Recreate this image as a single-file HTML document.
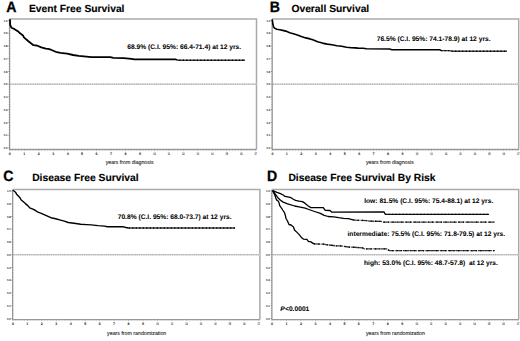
<!DOCTYPE html><html><head><meta charset="utf-8"><style>html,body{margin:0;padding:0;background:#fff;width:520px;height:341px;overflow:hidden}svg{display:block;text-rendering:geometricPrecision}</style></head><body>
<svg width="520" height="341" viewBox="0 0 520 341" font-family='"Liberation Sans", sans-serif'>
<rect width="520" height="341" fill="#fff"/>
<path d="M9.6 19H256.5V149.5" fill="none" stroke="#aaaaaa" stroke-width="1.5"/>
<line x1="9.6" y1="84.2" x2="256.5" y2="84.2" stroke="#d4d4d4" stroke-width="1.5"/>
<line x1="10.6" y1="84.2" x2="256.5" y2="84.2" stroke="#a8a8a8" stroke-width="1.3" stroke-dasharray="0.9 1.3"/>
<path d="M9.6 19V149.5H256.5" fill="none" stroke="#a0a0a0" stroke-width="1.3"/>
<path d="M8.3 147.9h1.6M8.9 145.35h1M8.9 142.8h1M8.9 140.26h1M8.9 137.71h1M8.3 135.16h1.6M8.9 132.61h1M8.9 130.06h1M8.9 127.52h1M8.9 124.97h1M8.3 122.42h1.6M8.9 119.87h1M8.9 117.32h1M8.9 114.78h1M8.9 112.23h1M8.3 109.68h1.6M8.9 107.13h1M8.9 104.58h1M8.9 102.04h1M8.9 99.49h1M8.3 96.94h1.6M8.9 94.39h1M8.9 91.84h1M8.9 89.3h1M8.9 86.75h1M8.3 84.2h1.6M8.9 81.65h1M8.9 79.1h1M8.9 76.56h1M8.9 74.01h1M8.3 71.46h1.6M8.9 68.91h1M8.9 66.36h1M8.9 63.82h1M8.9 61.27h1M8.3 58.72h1.6M8.9 56.17h1M8.9 53.62h1M8.9 51.08h1M8.9 48.53h1M8.3 45.98h1.6M8.9 43.43h1M8.9 40.88h1M8.9 38.34h1M8.9 35.79h1M8.3 33.24h1.6M8.9 30.69h1M8.9 28.14h1M8.9 25.6h1M8.9 23.05h1M8.3 20.5h1.6M9.8 149.2v1.3M12.69 149.2v1M15.58 149.2v1M18.48 149.2v1M21.37 149.2v1M24.26 149.2v1.3M27.15 149.2v1M30.04 149.2v1M32.94 149.2v1M35.83 149.2v1M38.72 149.2v1.3M41.61 149.2v1M44.5 149.2v1M47.4 149.2v1M50.29 149.2v1M53.18 149.2v1.3M56.07 149.2v1M58.96 149.2v1M61.86 149.2v1M64.75 149.2v1M67.64 149.2v1.3M70.53 149.2v1M73.42 149.2v1M76.32 149.2v1M79.21 149.2v1M82.1 149.2v1.3M84.99 149.2v1M87.88 149.2v1M90.78 149.2v1M93.67 149.2v1M96.56 149.2v1.3M99.45 149.2v1M102.34 149.2v1M105.24 149.2v1M108.13 149.2v1M111.02 149.2v1.3M113.91 149.2v1M116.8 149.2v1M119.7 149.2v1M122.59 149.2v1M125.48 149.2v1.3M128.37 149.2v1M131.26 149.2v1M134.16 149.2v1M137.05 149.2v1M139.94 149.2v1.3M142.83 149.2v1M145.72 149.2v1M148.62 149.2v1M151.51 149.2v1M154.4 149.2v1.3M157.29 149.2v1M160.18 149.2v1M163.08 149.2v1M165.97 149.2v1M168.86 149.2v1.3M171.75 149.2v1M174.64 149.2v1M177.54 149.2v1M180.43 149.2v1M183.32 149.2v1.3M186.21 149.2v1M189.1 149.2v1M192 149.2v1M194.89 149.2v1M197.78 149.2v1.3M200.67 149.2v1M203.56 149.2v1M206.46 149.2v1M209.35 149.2v1M212.24 149.2v1.3M215.13 149.2v1M218.02 149.2v1M220.92 149.2v1M223.81 149.2v1M226.7 149.2v1.3M229.59 149.2v1M232.48 149.2v1M235.38 149.2v1M238.27 149.2v1M241.16 149.2v1.3M244.05 149.2v1M246.94 149.2v1M249.84 149.2v1M252.73 149.2v1M255.62 149.2v1.3" stroke="#707070" stroke-width="0.7"/>
<text x="3.8" y="149" font-size="3.0" font-weight="bold" fill="#111" textLength="3.8" lengthAdjust="spacingAndGlyphs">0.0</text>
<text x="3.8" y="136.26" font-size="3.0" font-weight="bold" fill="#111" textLength="3.8" lengthAdjust="spacingAndGlyphs">0.1</text>
<text x="3.8" y="123.52" font-size="3.0" font-weight="bold" fill="#111" textLength="3.8" lengthAdjust="spacingAndGlyphs">0.2</text>
<text x="3.8" y="110.78" font-size="3.0" font-weight="bold" fill="#111" textLength="3.8" lengthAdjust="spacingAndGlyphs">0.3</text>
<text x="3.8" y="98.04" font-size="3.0" font-weight="bold" fill="#111" textLength="3.8" lengthAdjust="spacingAndGlyphs">0.4</text>
<text x="3.8" y="85.3" font-size="3.0" font-weight="bold" fill="#111" textLength="3.8" lengthAdjust="spacingAndGlyphs">0.5</text>
<text x="3.8" y="72.56" font-size="3.0" font-weight="bold" fill="#111" textLength="3.8" lengthAdjust="spacingAndGlyphs">0.6</text>
<text x="3.8" y="59.82" font-size="3.0" font-weight="bold" fill="#111" textLength="3.8" lengthAdjust="spacingAndGlyphs">0.7</text>
<text x="3.8" y="47.08" font-size="3.0" font-weight="bold" fill="#111" textLength="3.8" lengthAdjust="spacingAndGlyphs">0.8</text>
<text x="3.8" y="34.34" font-size="3.0" font-weight="bold" fill="#111" textLength="3.8" lengthAdjust="spacingAndGlyphs">0.9</text>
<text x="3.8" y="21.6" font-size="3.0" font-weight="bold" fill="#111" textLength="3.8" lengthAdjust="spacingAndGlyphs">1.0</text>
<text x="9.8" y="154.9" font-size="3.6" text-anchor="middle" font-weight="bold" fill="#111">0</text>
<text x="24.26" y="154.9" font-size="3.6" text-anchor="middle" font-weight="bold" fill="#111">1</text>
<text x="38.72" y="154.9" font-size="3.6" text-anchor="middle" font-weight="bold" fill="#111">2</text>
<text x="53.18" y="154.9" font-size="3.6" text-anchor="middle" font-weight="bold" fill="#111">3</text>
<text x="67.64" y="154.9" font-size="3.6" text-anchor="middle" font-weight="bold" fill="#111">4</text>
<text x="82.1" y="154.9" font-size="3.6" text-anchor="middle" font-weight="bold" fill="#111">5</text>
<text x="96.56" y="154.9" font-size="3.6" text-anchor="middle" font-weight="bold" fill="#111">6</text>
<text x="111.02" y="154.9" font-size="3.6" text-anchor="middle" font-weight="bold" fill="#111">7</text>
<text x="125.48" y="154.9" font-size="3.6" text-anchor="middle" font-weight="bold" fill="#111">8</text>
<text x="139.94" y="154.9" font-size="3.6" text-anchor="middle" font-weight="bold" fill="#111">9</text>
<text x="154.4" y="154.9" font-size="3.6" text-anchor="middle" font-weight="bold" fill="#111" textLength="2.4" lengthAdjust="spacingAndGlyphs">10</text>
<text x="168.86" y="154.9" font-size="3.6" text-anchor="middle" font-weight="bold" fill="#111" textLength="2.4" lengthAdjust="spacingAndGlyphs">11</text>
<text x="183.32" y="154.9" font-size="3.6" text-anchor="middle" font-weight="bold" fill="#111" textLength="2.4" lengthAdjust="spacingAndGlyphs">12</text>
<text x="197.78" y="154.9" font-size="3.6" text-anchor="middle" font-weight="bold" fill="#111" textLength="2.4" lengthAdjust="spacingAndGlyphs">13</text>
<text x="212.24" y="154.9" font-size="3.6" text-anchor="middle" font-weight="bold" fill="#111" textLength="2.4" lengthAdjust="spacingAndGlyphs">14</text>
<text x="226.7" y="154.9" font-size="3.6" text-anchor="middle" font-weight="bold" fill="#111" textLength="2.4" lengthAdjust="spacingAndGlyphs">15</text>
<text x="241.16" y="154.9" font-size="3.6" text-anchor="middle" font-weight="bold" fill="#111" textLength="2.4" lengthAdjust="spacingAndGlyphs">16</text>
<text x="255.62" y="154.9" font-size="3.6" text-anchor="middle" font-weight="bold" fill="#111" textLength="2.4" lengthAdjust="spacingAndGlyphs">17</text>
<text transform="translate(6.2 11.5) scale(0.94 1)" font-size="15.0" font-weight="bold" fill="#000" stroke="#000" stroke-width="0.3">A</text>
<text x="28.9" y="11.5" font-size="10.3" font-weight="bold" fill="#000" stroke="#000" stroke-width="0.12">Event Free Survival</text>
<text x="105.7" y="163.5" font-size="5.5" fill="#1a1a1a" stroke="#1a1a1a" stroke-width="0.1" textLength="47.9" lengthAdjust="spacingAndGlyphs">years from diagnosis</text>
<polyline points="9.9,19.3 10.1,21.9 10.2,24.8 11,26.9 11.9,28 14.2,28.9 16.6,30.4 18.6,31.8 20.1,33.3 23,35.4 23.9,37.4 28.4,41.3 33.5,45.2 36.8,45.5 41.3,47.4 45.8,48.7 48,48.9 50.9,49.7 55.7,51.8 60.5,52.8 67.2,53.7 73,55 78.8,55.9 86.5,56.6 91.3,57.1 98,57.1 110.4,57.1 113.3,57.8 123.8,58.1 131.5,58.8 134.4,59.3 176,59.3" fill="none" stroke="#000" stroke-width="1.8" stroke-linejoin="round"/>
<polyline points="176,59.3 178,60.2 245,60.2" fill="none" stroke="#3c3c3c" stroke-width="1.4"/>
<polyline points="176,59.3 178,60.2 245,60.2" fill="none" stroke="#000" stroke-width="1.4" stroke-dasharray="1.2 2.3"/>
<path d="M272.2 19H518.7V149.5" fill="none" stroke="#aaaaaa" stroke-width="1.5"/>
<line x1="272.2" y1="84.2" x2="518.7" y2="84.2" stroke="#d4d4d4" stroke-width="1.5"/>
<line x1="273.2" y1="84.2" x2="518.7" y2="84.2" stroke="#a8a8a8" stroke-width="1.3" stroke-dasharray="0.9 1.3"/>
<path d="M272.2 19V149.5H518.7" fill="none" stroke="#a0a0a0" stroke-width="1.3"/>
<path d="M270.9 147.9h1.6M271.5 145.35h1M271.5 142.8h1M271.5 140.26h1M271.5 137.71h1M270.9 135.16h1.6M271.5 132.61h1M271.5 130.06h1M271.5 127.52h1M271.5 124.97h1M270.9 122.42h1.6M271.5 119.87h1M271.5 117.32h1M271.5 114.78h1M271.5 112.23h1M270.9 109.68h1.6M271.5 107.13h1M271.5 104.58h1M271.5 102.04h1M271.5 99.49h1M270.9 96.94h1.6M271.5 94.39h1M271.5 91.84h1M271.5 89.3h1M271.5 86.75h1M270.9 84.2h1.6M271.5 81.65h1M271.5 79.1h1M271.5 76.56h1M271.5 74.01h1M270.9 71.46h1.6M271.5 68.91h1M271.5 66.36h1M271.5 63.82h1M271.5 61.27h1M270.9 58.72h1.6M271.5 56.17h1M271.5 53.62h1M271.5 51.08h1M271.5 48.53h1M270.9 45.98h1.6M271.5 43.43h1M271.5 40.88h1M271.5 38.34h1M271.5 35.79h1M270.9 33.24h1.6M271.5 30.69h1M271.5 28.14h1M271.5 25.6h1M271.5 23.05h1M270.9 20.5h1.6M272.4 149.2v1.3M275.29 149.2v1M278.18 149.2v1M281.08 149.2v1M283.97 149.2v1M286.86 149.2v1.3M289.75 149.2v1M292.64 149.2v1M295.54 149.2v1M298.43 149.2v1M301.32 149.2v1.3M304.21 149.2v1M307.1 149.2v1M310 149.2v1M312.89 149.2v1M315.78 149.2v1.3M318.67 149.2v1M321.56 149.2v1M324.46 149.2v1M327.35 149.2v1M330.24 149.2v1.3M333.13 149.2v1M336.02 149.2v1M338.92 149.2v1M341.81 149.2v1M344.7 149.2v1.3M347.59 149.2v1M350.48 149.2v1M353.38 149.2v1M356.27 149.2v1M359.16 149.2v1.3M362.05 149.2v1M364.94 149.2v1M367.84 149.2v1M370.73 149.2v1M373.62 149.2v1.3M376.51 149.2v1M379.4 149.2v1M382.3 149.2v1M385.19 149.2v1M388.08 149.2v1.3M390.97 149.2v1M393.86 149.2v1M396.76 149.2v1M399.65 149.2v1M402.54 149.2v1.3M405.43 149.2v1M408.32 149.2v1M411.22 149.2v1M414.11 149.2v1M417 149.2v1.3M419.89 149.2v1M422.78 149.2v1M425.68 149.2v1M428.57 149.2v1M431.46 149.2v1.3M434.35 149.2v1M437.24 149.2v1M440.14 149.2v1M443.03 149.2v1M445.92 149.2v1.3M448.81 149.2v1M451.7 149.2v1M454.6 149.2v1M457.49 149.2v1M460.38 149.2v1.3M463.27 149.2v1M466.16 149.2v1M469.06 149.2v1M471.95 149.2v1M474.84 149.2v1.3M477.73 149.2v1M480.62 149.2v1M483.52 149.2v1M486.41 149.2v1M489.3 149.2v1.3M492.19 149.2v1M495.08 149.2v1M497.98 149.2v1M500.87 149.2v1M503.76 149.2v1.3M506.65 149.2v1M509.54 149.2v1M512.44 149.2v1M515.33 149.2v1M518.22 149.2v1.3" stroke="#707070" stroke-width="0.7"/>
<text x="266.4" y="149" font-size="3.0" font-weight="bold" fill="#111" textLength="3.8" lengthAdjust="spacingAndGlyphs">0.0</text>
<text x="266.4" y="136.26" font-size="3.0" font-weight="bold" fill="#111" textLength="3.8" lengthAdjust="spacingAndGlyphs">0.1</text>
<text x="266.4" y="123.52" font-size="3.0" font-weight="bold" fill="#111" textLength="3.8" lengthAdjust="spacingAndGlyphs">0.2</text>
<text x="266.4" y="110.78" font-size="3.0" font-weight="bold" fill="#111" textLength="3.8" lengthAdjust="spacingAndGlyphs">0.3</text>
<text x="266.4" y="98.04" font-size="3.0" font-weight="bold" fill="#111" textLength="3.8" lengthAdjust="spacingAndGlyphs">0.4</text>
<text x="266.4" y="85.3" font-size="3.0" font-weight="bold" fill="#111" textLength="3.8" lengthAdjust="spacingAndGlyphs">0.5</text>
<text x="266.4" y="72.56" font-size="3.0" font-weight="bold" fill="#111" textLength="3.8" lengthAdjust="spacingAndGlyphs">0.6</text>
<text x="266.4" y="59.82" font-size="3.0" font-weight="bold" fill="#111" textLength="3.8" lengthAdjust="spacingAndGlyphs">0.7</text>
<text x="266.4" y="47.08" font-size="3.0" font-weight="bold" fill="#111" textLength="3.8" lengthAdjust="spacingAndGlyphs">0.8</text>
<text x="266.4" y="34.34" font-size="3.0" font-weight="bold" fill="#111" textLength="3.8" lengthAdjust="spacingAndGlyphs">0.9</text>
<text x="266.4" y="21.6" font-size="3.0" font-weight="bold" fill="#111" textLength="3.8" lengthAdjust="spacingAndGlyphs">1.0</text>
<text x="272.4" y="154.9" font-size="3.6" text-anchor="middle" font-weight="bold" fill="#111">0</text>
<text x="286.86" y="154.9" font-size="3.6" text-anchor="middle" font-weight="bold" fill="#111">1</text>
<text x="301.32" y="154.9" font-size="3.6" text-anchor="middle" font-weight="bold" fill="#111">2</text>
<text x="315.78" y="154.9" font-size="3.6" text-anchor="middle" font-weight="bold" fill="#111">3</text>
<text x="330.24" y="154.9" font-size="3.6" text-anchor="middle" font-weight="bold" fill="#111">4</text>
<text x="344.7" y="154.9" font-size="3.6" text-anchor="middle" font-weight="bold" fill="#111">5</text>
<text x="359.16" y="154.9" font-size="3.6" text-anchor="middle" font-weight="bold" fill="#111">6</text>
<text x="373.62" y="154.9" font-size="3.6" text-anchor="middle" font-weight="bold" fill="#111">7</text>
<text x="388.08" y="154.9" font-size="3.6" text-anchor="middle" font-weight="bold" fill="#111">8</text>
<text x="402.54" y="154.9" font-size="3.6" text-anchor="middle" font-weight="bold" fill="#111">9</text>
<text x="417" y="154.9" font-size="3.6" text-anchor="middle" font-weight="bold" fill="#111" textLength="2.4" lengthAdjust="spacingAndGlyphs">10</text>
<text x="431.46" y="154.9" font-size="3.6" text-anchor="middle" font-weight="bold" fill="#111" textLength="2.4" lengthAdjust="spacingAndGlyphs">11</text>
<text x="445.92" y="154.9" font-size="3.6" text-anchor="middle" font-weight="bold" fill="#111" textLength="2.4" lengthAdjust="spacingAndGlyphs">12</text>
<text x="460.38" y="154.9" font-size="3.6" text-anchor="middle" font-weight="bold" fill="#111" textLength="2.4" lengthAdjust="spacingAndGlyphs">13</text>
<text x="474.84" y="154.9" font-size="3.6" text-anchor="middle" font-weight="bold" fill="#111" textLength="2.4" lengthAdjust="spacingAndGlyphs">14</text>
<text x="489.3" y="154.9" font-size="3.6" text-anchor="middle" font-weight="bold" fill="#111" textLength="2.4" lengthAdjust="spacingAndGlyphs">15</text>
<text x="503.76" y="154.9" font-size="3.6" text-anchor="middle" font-weight="bold" fill="#111" textLength="2.4" lengthAdjust="spacingAndGlyphs">16</text>
<text x="518.22" y="154.9" font-size="3.6" text-anchor="middle" font-weight="bold" fill="#111" textLength="2.4" lengthAdjust="spacingAndGlyphs">17</text>
<text transform="translate(269.8 11.8) scale(0.94 1)" font-size="15.0" font-weight="bold" fill="#000" stroke="#000" stroke-width="0.3">B</text>
<text x="291.4" y="11.5" font-size="10.3" font-weight="bold" fill="#000" stroke="#000" stroke-width="0.12">Overall Survival</text>
<text x="366" y="163.5" font-size="5.5" fill="#1a1a1a" stroke="#1a1a1a" stroke-width="0.1" textLength="47.8" lengthAdjust="spacingAndGlyphs">years from diagnosis</text>
<polyline points="272.2,19.3 272.6,21.9 273,24.8 273.6,26.9 274.7,28.3 276.8,29.2 279.7,29.8 282.7,30.4 285.8,31.1 289.7,32.7 294.2,34 297.4,35 301.3,36.6 305.8,37.9 310,38.9 312.8,39.8 317.6,41.7 322.4,43.1 327.2,44.1 332,44.8 336.8,45.7 341.7,46.3 346.5,47.3 351.3,47.8 355,47.9 358,48.1 363,48.2 366.5,48.7 389.6,49 391.9,49.8 440,49.8 441.1,50.6" fill="none" stroke="#000" stroke-width="1.6" stroke-linejoin="round"/>
<polyline points="441.1,50.6 449.2,50.6 452.7,51.3 507,51.3" fill="none" stroke="#3c3c3c" stroke-width="1.4"/>
<polyline points="441.1,50.6 449.2,50.6 452.7,51.3 507,51.3" fill="none" stroke="#000" stroke-width="1.4" stroke-dasharray="1.2 2.3"/>
<path d="M12.7 189.4H259.9V319.6" fill="none" stroke="#aaaaaa" stroke-width="1.5"/>
<line x1="12.7" y1="254.7" x2="259.9" y2="254.7" stroke="#d4d4d4" stroke-width="1.5"/>
<line x1="13.7" y1="254.7" x2="259.9" y2="254.7" stroke="#a8a8a8" stroke-width="1.3" stroke-dasharray="0.9 1.3"/>
<path d="M12.7 189.4V319.6H259.9" fill="none" stroke="#a0a0a0" stroke-width="1.3"/>
<path d="M11.4 318.4h1.6M12 315.85h1M12 313.3h1M12 310.76h1M12 308.21h1M11.4 305.66h1.6M12 303.11h1M12 300.56h1M12 298.02h1M12 295.47h1M11.4 292.92h1.6M12 290.37h1M12 287.82h1M12 285.28h1M12 282.73h1M11.4 280.18h1.6M12 277.63h1M12 275.08h1M12 272.54h1M12 269.99h1M11.4 267.44h1.6M12 264.89h1M12 262.34h1M12 259.8h1M12 257.25h1M11.4 254.7h1.6M12 252.15h1M12 249.6h1M12 247.06h1M12 244.51h1M11.4 241.96h1.6M12 239.41h1M12 236.86h1M12 234.32h1M12 231.77h1M11.4 229.22h1.6M12 226.67h1M12 224.12h1M12 221.58h1M12 219.03h1M11.4 216.48h1.6M12 213.93h1M12 211.38h1M12 208.84h1M12 206.29h1M11.4 203.74h1.6M12 201.19h1M12 198.64h1M12 196.1h1M12 193.55h1M11.4 191h1.6M12.9 319.3v1.3M15.79 319.3v1M18.68 319.3v1M21.58 319.3v1M24.47 319.3v1M27.36 319.3v1.3M30.25 319.3v1M33.14 319.3v1M36.04 319.3v1M38.93 319.3v1M41.82 319.3v1.3M44.71 319.3v1M47.6 319.3v1M50.5 319.3v1M53.39 319.3v1M56.28 319.3v1.3M59.17 319.3v1M62.06 319.3v1M64.96 319.3v1M67.85 319.3v1M70.74 319.3v1.3M73.63 319.3v1M76.52 319.3v1M79.42 319.3v1M82.31 319.3v1M85.2 319.3v1.3M88.09 319.3v1M90.98 319.3v1M93.88 319.3v1M96.77 319.3v1M99.66 319.3v1.3M102.55 319.3v1M105.44 319.3v1M108.34 319.3v1M111.23 319.3v1M114.12 319.3v1.3M117.01 319.3v1M119.9 319.3v1M122.8 319.3v1M125.69 319.3v1M128.58 319.3v1.3M131.47 319.3v1M134.36 319.3v1M137.26 319.3v1M140.15 319.3v1M143.04 319.3v1.3M145.93 319.3v1M148.82 319.3v1M151.72 319.3v1M154.61 319.3v1M157.5 319.3v1.3M160.39 319.3v1M163.28 319.3v1M166.18 319.3v1M169.07 319.3v1M171.96 319.3v1.3M174.85 319.3v1M177.74 319.3v1M180.64 319.3v1M183.53 319.3v1M186.42 319.3v1.3M189.31 319.3v1M192.2 319.3v1M195.1 319.3v1M197.99 319.3v1M200.88 319.3v1.3M203.77 319.3v1M206.66 319.3v1M209.56 319.3v1M212.45 319.3v1M215.34 319.3v1.3M218.23 319.3v1M221.12 319.3v1M224.02 319.3v1M226.91 319.3v1M229.8 319.3v1.3M232.69 319.3v1M235.58 319.3v1M238.48 319.3v1M241.37 319.3v1M244.26 319.3v1.3M247.15 319.3v1M250.04 319.3v1M252.94 319.3v1M255.83 319.3v1M258.72 319.3v1.3" stroke="#707070" stroke-width="0.7"/>
<text x="6.9" y="319.5" font-size="3.0" font-weight="bold" fill="#111" textLength="3.8" lengthAdjust="spacingAndGlyphs">0.0</text>
<text x="6.9" y="306.76" font-size="3.0" font-weight="bold" fill="#111" textLength="3.8" lengthAdjust="spacingAndGlyphs">0.1</text>
<text x="6.9" y="294.02" font-size="3.0" font-weight="bold" fill="#111" textLength="3.8" lengthAdjust="spacingAndGlyphs">0.2</text>
<text x="6.9" y="281.28" font-size="3.0" font-weight="bold" fill="#111" textLength="3.8" lengthAdjust="spacingAndGlyphs">0.3</text>
<text x="6.9" y="268.54" font-size="3.0" font-weight="bold" fill="#111" textLength="3.8" lengthAdjust="spacingAndGlyphs">0.4</text>
<text x="6.9" y="255.8" font-size="3.0" font-weight="bold" fill="#111" textLength="3.8" lengthAdjust="spacingAndGlyphs">0.5</text>
<text x="6.9" y="243.06" font-size="3.0" font-weight="bold" fill="#111" textLength="3.8" lengthAdjust="spacingAndGlyphs">0.6</text>
<text x="6.9" y="230.32" font-size="3.0" font-weight="bold" fill="#111" textLength="3.8" lengthAdjust="spacingAndGlyphs">0.7</text>
<text x="6.9" y="217.58" font-size="3.0" font-weight="bold" fill="#111" textLength="3.8" lengthAdjust="spacingAndGlyphs">0.8</text>
<text x="6.9" y="204.84" font-size="3.0" font-weight="bold" fill="#111" textLength="3.8" lengthAdjust="spacingAndGlyphs">0.9</text>
<text x="6.9" y="192.1" font-size="3.0" font-weight="bold" fill="#111" textLength="3.8" lengthAdjust="spacingAndGlyphs">1.0</text>
<text x="12.9" y="325" font-size="3.6" text-anchor="middle" font-weight="bold" fill="#111">0</text>
<text x="27.36" y="325" font-size="3.6" text-anchor="middle" font-weight="bold" fill="#111">1</text>
<text x="41.82" y="325" font-size="3.6" text-anchor="middle" font-weight="bold" fill="#111">2</text>
<text x="56.28" y="325" font-size="3.6" text-anchor="middle" font-weight="bold" fill="#111">3</text>
<text x="70.74" y="325" font-size="3.6" text-anchor="middle" font-weight="bold" fill="#111">4</text>
<text x="85.2" y="325" font-size="3.6" text-anchor="middle" font-weight="bold" fill="#111">5</text>
<text x="99.66" y="325" font-size="3.6" text-anchor="middle" font-weight="bold" fill="#111">6</text>
<text x="114.12" y="325" font-size="3.6" text-anchor="middle" font-weight="bold" fill="#111">7</text>
<text x="128.58" y="325" font-size="3.6" text-anchor="middle" font-weight="bold" fill="#111">8</text>
<text x="143.04" y="325" font-size="3.6" text-anchor="middle" font-weight="bold" fill="#111">9</text>
<text x="157.5" y="325" font-size="3.6" text-anchor="middle" font-weight="bold" fill="#111" textLength="2.4" lengthAdjust="spacingAndGlyphs">10</text>
<text x="171.96" y="325" font-size="3.6" text-anchor="middle" font-weight="bold" fill="#111" textLength="2.4" lengthAdjust="spacingAndGlyphs">11</text>
<text x="186.42" y="325" font-size="3.6" text-anchor="middle" font-weight="bold" fill="#111" textLength="2.4" lengthAdjust="spacingAndGlyphs">12</text>
<text x="200.88" y="325" font-size="3.6" text-anchor="middle" font-weight="bold" fill="#111" textLength="2.4" lengthAdjust="spacingAndGlyphs">13</text>
<text x="215.34" y="325" font-size="3.6" text-anchor="middle" font-weight="bold" fill="#111" textLength="2.4" lengthAdjust="spacingAndGlyphs">14</text>
<text x="229.8" y="325" font-size="3.6" text-anchor="middle" font-weight="bold" fill="#111" textLength="2.4" lengthAdjust="spacingAndGlyphs">15</text>
<text x="244.26" y="325" font-size="3.6" text-anchor="middle" font-weight="bold" fill="#111" textLength="2.4" lengthAdjust="spacingAndGlyphs">16</text>
<text x="258.72" y="325" font-size="3.6" text-anchor="middle" font-weight="bold" fill="#111" textLength="2.4" lengthAdjust="spacingAndGlyphs">17</text>
<text transform="translate(3.3 181) scale(0.94 1)" font-size="15.0" font-weight="bold" fill="#000" stroke="#000" stroke-width="0.3">C</text>
<text x="32.15" y="180.8" font-size="10.3" font-weight="bold" fill="#000" stroke="#000" stroke-width="0.12">Disease Free Survival</text>
<text x="107.1" y="335.1" font-size="5.5" fill="#1a1a1a" stroke="#1a1a1a" stroke-width="0.1" textLength="59.2" lengthAdjust="spacingAndGlyphs">years from randomization</text>
<polyline points="12.8,190.2 14.3,191.3 15.5,192.2 16.6,194.2 18.4,196 20.1,198 21,199.8 23.1,201.5 25.4,203.6 27.8,205.6 29.7,207.8 32.9,209.2 35.5,210.5 37.4,211.9 41.3,213.4 45.8,215.3 48,216.3 50.9,217.7 55.7,218.8 60.5,220.1 64.3,221.1 68.2,222.5 74,223.3 80.7,224.2 86.5,224.6 91.3,224.9 98,225.6 104.6,226.1 107.5,226.7 122.9,226.7 125.8,227.5 128.7,228" fill="none" stroke="#000" stroke-width="1.4" stroke-linejoin="round"/>
<polyline points="128.7,228 235,228" fill="none" stroke="#3c3c3c" stroke-width="1.4"/>
<polyline points="128.7,228 235,228" fill="none" stroke="#000" stroke-width="1.4" stroke-dasharray="1.2 2.3"/>
<path d="M271.9 189.4H518.7V319.6" fill="none" stroke="#aaaaaa" stroke-width="1.5"/>
<line x1="271.9" y1="254.7" x2="518.7" y2="254.7" stroke="#d4d4d4" stroke-width="1.5"/>
<line x1="272.9" y1="254.7" x2="518.7" y2="254.7" stroke="#a8a8a8" stroke-width="1.3" stroke-dasharray="0.9 1.3"/>
<path d="M271.9 189.4V319.6H518.7" fill="none" stroke="#a0a0a0" stroke-width="1.3"/>
<path d="M270.6 318.4h1.6M271.2 315.85h1M271.2 313.3h1M271.2 310.76h1M271.2 308.21h1M270.6 305.66h1.6M271.2 303.11h1M271.2 300.56h1M271.2 298.02h1M271.2 295.47h1M270.6 292.92h1.6M271.2 290.37h1M271.2 287.82h1M271.2 285.28h1M271.2 282.73h1M270.6 280.18h1.6M271.2 277.63h1M271.2 275.08h1M271.2 272.54h1M271.2 269.99h1M270.6 267.44h1.6M271.2 264.89h1M271.2 262.34h1M271.2 259.8h1M271.2 257.25h1M270.6 254.7h1.6M271.2 252.15h1M271.2 249.6h1M271.2 247.06h1M271.2 244.51h1M270.6 241.96h1.6M271.2 239.41h1M271.2 236.86h1M271.2 234.32h1M271.2 231.77h1M270.6 229.22h1.6M271.2 226.67h1M271.2 224.12h1M271.2 221.58h1M271.2 219.03h1M270.6 216.48h1.6M271.2 213.93h1M271.2 211.38h1M271.2 208.84h1M271.2 206.29h1M270.6 203.74h1.6M271.2 201.19h1M271.2 198.64h1M271.2 196.1h1M271.2 193.55h1M270.6 191h1.6M272.1 319.3v1.3M274.99 319.3v1M277.88 319.3v1M280.78 319.3v1M283.67 319.3v1M286.56 319.3v1.3M289.45 319.3v1M292.34 319.3v1M295.24 319.3v1M298.13 319.3v1M301.02 319.3v1.3M303.91 319.3v1M306.8 319.3v1M309.7 319.3v1M312.59 319.3v1M315.48 319.3v1.3M318.37 319.3v1M321.26 319.3v1M324.16 319.3v1M327.05 319.3v1M329.94 319.3v1.3M332.83 319.3v1M335.72 319.3v1M338.62 319.3v1M341.51 319.3v1M344.4 319.3v1.3M347.29 319.3v1M350.18 319.3v1M353.08 319.3v1M355.97 319.3v1M358.86 319.3v1.3M361.75 319.3v1M364.64 319.3v1M367.54 319.3v1M370.43 319.3v1M373.32 319.3v1.3M376.21 319.3v1M379.1 319.3v1M382 319.3v1M384.89 319.3v1M387.78 319.3v1.3M390.67 319.3v1M393.56 319.3v1M396.46 319.3v1M399.35 319.3v1M402.24 319.3v1.3M405.13 319.3v1M408.02 319.3v1M410.92 319.3v1M413.81 319.3v1M416.7 319.3v1.3M419.59 319.3v1M422.48 319.3v1M425.38 319.3v1M428.27 319.3v1M431.16 319.3v1.3M434.05 319.3v1M436.94 319.3v1M439.84 319.3v1M442.73 319.3v1M445.62 319.3v1.3M448.51 319.3v1M451.4 319.3v1M454.3 319.3v1M457.19 319.3v1M460.08 319.3v1.3M462.97 319.3v1M465.86 319.3v1M468.76 319.3v1M471.65 319.3v1M474.54 319.3v1.3M477.43 319.3v1M480.32 319.3v1M483.22 319.3v1M486.11 319.3v1M489 319.3v1.3M491.89 319.3v1M494.78 319.3v1M497.68 319.3v1M500.57 319.3v1M503.46 319.3v1.3M506.35 319.3v1M509.24 319.3v1M512.14 319.3v1M515.03 319.3v1M517.92 319.3v1.3" stroke="#707070" stroke-width="0.7"/>
<text x="266.1" y="319.5" font-size="3.0" font-weight="bold" fill="#111" textLength="3.8" lengthAdjust="spacingAndGlyphs">0.0</text>
<text x="266.1" y="306.76" font-size="3.0" font-weight="bold" fill="#111" textLength="3.8" lengthAdjust="spacingAndGlyphs">0.1</text>
<text x="266.1" y="294.02" font-size="3.0" font-weight="bold" fill="#111" textLength="3.8" lengthAdjust="spacingAndGlyphs">0.2</text>
<text x="266.1" y="281.28" font-size="3.0" font-weight="bold" fill="#111" textLength="3.8" lengthAdjust="spacingAndGlyphs">0.3</text>
<text x="266.1" y="268.54" font-size="3.0" font-weight="bold" fill="#111" textLength="3.8" lengthAdjust="spacingAndGlyphs">0.4</text>
<text x="266.1" y="255.8" font-size="3.0" font-weight="bold" fill="#111" textLength="3.8" lengthAdjust="spacingAndGlyphs">0.5</text>
<text x="266.1" y="243.06" font-size="3.0" font-weight="bold" fill="#111" textLength="3.8" lengthAdjust="spacingAndGlyphs">0.6</text>
<text x="266.1" y="230.32" font-size="3.0" font-weight="bold" fill="#111" textLength="3.8" lengthAdjust="spacingAndGlyphs">0.7</text>
<text x="266.1" y="217.58" font-size="3.0" font-weight="bold" fill="#111" textLength="3.8" lengthAdjust="spacingAndGlyphs">0.8</text>
<text x="266.1" y="204.84" font-size="3.0" font-weight="bold" fill="#111" textLength="3.8" lengthAdjust="spacingAndGlyphs">0.9</text>
<text x="266.1" y="192.1" font-size="3.0" font-weight="bold" fill="#111" textLength="3.8" lengthAdjust="spacingAndGlyphs">1.0</text>
<text x="272.1" y="325" font-size="3.6" text-anchor="middle" font-weight="bold" fill="#111">0</text>
<text x="286.56" y="325" font-size="3.6" text-anchor="middle" font-weight="bold" fill="#111">1</text>
<text x="301.02" y="325" font-size="3.6" text-anchor="middle" font-weight="bold" fill="#111">2</text>
<text x="315.48" y="325" font-size="3.6" text-anchor="middle" font-weight="bold" fill="#111">3</text>
<text x="329.94" y="325" font-size="3.6" text-anchor="middle" font-weight="bold" fill="#111">4</text>
<text x="344.4" y="325" font-size="3.6" text-anchor="middle" font-weight="bold" fill="#111">5</text>
<text x="358.86" y="325" font-size="3.6" text-anchor="middle" font-weight="bold" fill="#111">6</text>
<text x="373.32" y="325" font-size="3.6" text-anchor="middle" font-weight="bold" fill="#111">7</text>
<text x="387.78" y="325" font-size="3.6" text-anchor="middle" font-weight="bold" fill="#111">8</text>
<text x="402.24" y="325" font-size="3.6" text-anchor="middle" font-weight="bold" fill="#111">9</text>
<text x="416.7" y="325" font-size="3.6" text-anchor="middle" font-weight="bold" fill="#111" textLength="2.4" lengthAdjust="spacingAndGlyphs">10</text>
<text x="431.16" y="325" font-size="3.6" text-anchor="middle" font-weight="bold" fill="#111" textLength="2.4" lengthAdjust="spacingAndGlyphs">11</text>
<text x="445.62" y="325" font-size="3.6" text-anchor="middle" font-weight="bold" fill="#111" textLength="2.4" lengthAdjust="spacingAndGlyphs">12</text>
<text x="460.08" y="325" font-size="3.6" text-anchor="middle" font-weight="bold" fill="#111" textLength="2.4" lengthAdjust="spacingAndGlyphs">13</text>
<text x="474.54" y="325" font-size="3.6" text-anchor="middle" font-weight="bold" fill="#111" textLength="2.4" lengthAdjust="spacingAndGlyphs">14</text>
<text x="489" y="325" font-size="3.6" text-anchor="middle" font-weight="bold" fill="#111" textLength="2.4" lengthAdjust="spacingAndGlyphs">15</text>
<text x="503.46" y="325" font-size="3.6" text-anchor="middle" font-weight="bold" fill="#111" textLength="2.4" lengthAdjust="spacingAndGlyphs">16</text>
<text x="517.92" y="325" font-size="3.6" text-anchor="middle" font-weight="bold" fill="#111" textLength="2.4" lengthAdjust="spacingAndGlyphs">17</text>
<text transform="translate(266.9 180.8) scale(0.94 1)" font-size="15.0" font-weight="bold" fill="#000" stroke="#000" stroke-width="0.3">D</text>
<text x="288.4" y="180.8" font-size="10.3" font-weight="bold" fill="#000" stroke="#000" stroke-width="0.12">Disease Free Survival By Risk</text>
<text x="366" y="335.1" font-size="5.5" fill="#1a1a1a" stroke="#1a1a1a" stroke-width="0.1" textLength="58.9" lengthAdjust="spacingAndGlyphs">years from randomization</text>
<polyline points="272.6,190.6 277,192.4 280.5,193.7 283.2,195 285,196.4 287.6,196.8 291.1,197.7 292.9,199 295.5,200.3 299,201.2 302.5,201.6 305.2,203.4 307.9,205.7 310.8,207.6 323.3,207.6 325.2,210.3 330,210.5 331.9,212.2 384.1,212 385.1,214.3" fill="none" stroke="#000" stroke-width="1.3" stroke-linejoin="round"/>
<polyline points="385.1,214.3 489.1,214.4" fill="none" stroke="#111" stroke-width="1.25"/>
<polyline points="385.1,214.3 489.1,214.4" fill="none" stroke="#000" stroke-width="1.25" stroke-dasharray="1.2 2.3"/>
<polyline points="272.6,190.6 275.3,194.2 277.9,197.7 280.5,200.3 283.2,202.1 287.6,203.8 290.2,204.7 294.6,206 299,206.9 305.2,208.2 308.8,209.5 314.6,211.5 320.4,213.4 324.2,215.3 328.1,216.5 333.8,216.8 338.7,217.7 343.5,218.4 348.3,218.7 353.1,219.9" fill="none" stroke="#000" stroke-width="1.3" stroke-linejoin="round"/>
<polyline points="353.1,219.9 355.8,220.2 367.3,220.6 369.2,221.2 380.8,221.3 382.7,222.1 494.3,222.2" fill="none" stroke="#383838" stroke-width="1.3" stroke-dasharray="6.5 1"/>
<polyline points="353.1,219.9 355.8,220.2 367.3,220.6 369.2,221.2 380.8,221.3 382.7,222.1 494.3,222.2" fill="none" stroke="#000" stroke-width="1.3" stroke-dasharray="1.2 3.2"/>
<polyline points="272.6,190.6 274.8,195 275.7,197.7 276.6,199.9 278.4,201.2 279.2,203.4 279.7,205.6 281,207.3 282.7,210 284.5,212.6 285.5,216 286,218.5 287.5,221 289,224.5 291,225 293.5,227 294.5,230 297,232.4 299,234.4 301.4,237.4 303.4,239.1 306.9,239.4 308.4,241.4 310.9,241.9 313.9,243.9" fill="none" stroke="#000" stroke-width="1.3" stroke-linejoin="round"/>
<polyline points="313.9,243.9 323.9,244.1 327,244.8 335.8,245.8 340,245.8 348.7,247 362.5,247.8 364.2,248.9 386.7,248.9 389.3,250.6 494.5,250.7" fill="none" stroke="#383838" stroke-width="1.3" stroke-dasharray="6.5 1"/>
<polyline points="313.9,243.9 323.9,244.1 327,244.8 335.8,245.8 340,245.8 348.7,247 362.5,247.8 364.2,248.9 386.7,248.9 389.3,250.6 494.5,250.7" fill="none" stroke="#000" stroke-width="1.3" stroke-dasharray="1.2 3.2"/>
<text x="127.3" y="48.6" font-size="6.68" font-weight="bold" fill="#000" stroke="#000" stroke-width="0.05" xml:space="preserve">68.9% (C.I. 95%: 66.4-71.4) at 12 yrs.</text>
<text x="376.7" y="40.7" font-size="6.68" font-weight="bold" fill="#000" stroke="#000" stroke-width="0.05" xml:space="preserve">76.5% (C.I. 95%: 74.1-78.9) at 12 yrs.</text>
<text x="117.7" y="218.9" font-size="6.68" font-weight="bold" fill="#000" stroke="#000" stroke-width="0.05" xml:space="preserve">70.8% (C.I. 95%: 68.0-73.7) at 12 yrs.</text>
<text x="364.2" y="202.5" font-size="6.68" font-weight="bold" fill="#000" stroke="#000" stroke-width="0.05" xml:space="preserve">low: 81.5% (C.I. 95%: 75.4-88.1) at 12 yrs.</text>
<text x="347.5" y="235.8" font-size="6.68" font-weight="bold" fill="#000" stroke="#000" stroke-width="0.05" xml:space="preserve">intermediate: 75.5% (C.I. 95%: 71.8-79.5) at 12 yrs.</text>
<text x="364" y="264.7" font-size="6.68" font-weight="bold" fill="#000" stroke="#000" stroke-width="0.05" xml:space="preserve">high: 53.0% (C.I. 95%: 48.7-57.8)  at 12 yrs.</text>
<text x="280.2" y="310.6" font-size="6.68" font-weight="bold" font-style="italic" fill="#000" stroke="#000" stroke-width="0.05">P</text>
<text x="285.0" y="310.6" font-size="6.68" font-weight="bold" fill="#000" stroke="#000" stroke-width="0.05">&lt;0.0001</text>
</svg></body></html>
